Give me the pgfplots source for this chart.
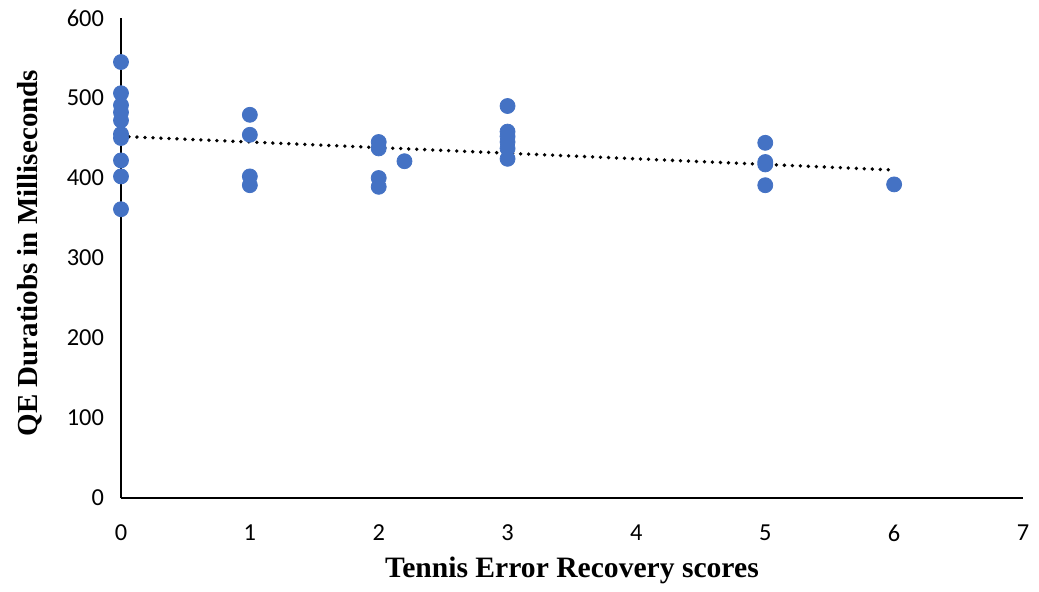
\documentclass[border=0pt]{standalone}
\usepackage{fontspec}
\setmainfont{Carlito}
\newfontfamily\tnr{Liberation Serif}
\usepackage{pgfplots}
\pgfplotsset{compat=1.18}
\definecolor{dotblue}{HTML}{4472C4}
\begin{document}
\begin{tikzpicture}
\path[use as bounding box] (-60.5pt,-46.5pt) rectangle (459pt,249pt);
\begin{axis}[
  at={(0,0)}, anchor=south west,
  scale only axis, width=451pt, height=240pt,
  xmin=0, xmax=7, ymin=0, ymax=600,
  axis lines=left,
  axis line style={-, line width=0.75pt, black},
  xtick={0,1,2,3,4,5,6,7}, ytick={0,100,200,300,400,500,600},
  major tick length=0pt,
  tick label style={font=\fontsize{12.2}{14}\selectfont},
  /pgf/number format/assume math mode=true,
  yticklabel style={xshift=-5pt},
  xticklabel style={yshift=-10pt},
  xlabel={Tennis Error Recovery scores},
  ylabel={QE Duratiobs in Milliseconds},
  xlabel style={at={(axis description cs:0.5,-0.15)}, anchor=center, font=\tnr\bfseries\fontsize{14.8}{16}\selectfont},
  ylabel style={at={(axis description cs:-0.101,0.51)}, anchor=center, font=\tnr\bfseries\fontsize{14.5}{16}\selectfont},
  clip=false,
]
\addplot[only marks, mark=*, mark size=3.75pt, mark options={draw=dotblue, fill=dotblue}] coordinates {
(0,545) (0,506) (0,491) (0,482) (0,472) (0,455) (0,450) (0,422) (0,402) (0,361)
(1,479) (1,454) (1,402) (1,391)
(2,445) (2,437) (2,400) (2,389) (2.2,421)
(3,490) (3,458) (3,452) (3,445) (3,437) (3,424)
(5,444) (5,420) (5,417) (5,391)
(6,392)
};
\addplot[black, line width=1.9pt, dash pattern=on 0pt off 4pt, line cap=round] coordinates {(0,452) (6,410)};
\end{axis}
\end{tikzpicture}
\end{document}
